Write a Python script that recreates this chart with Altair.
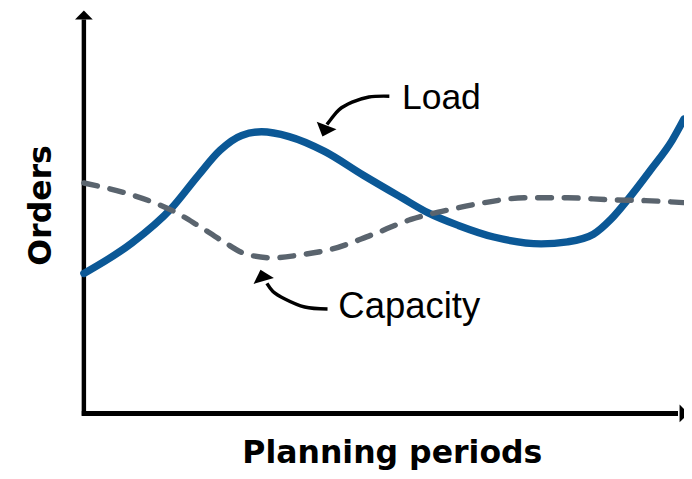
import altair as alt
import pandas as pd

# Planning periods (x, 0-100) and orders (y, 0-100)
load_period = [0, 8.0, 14.6, 19.0, 22.7, 26.3, 29.6, 34.2, 40.1, 46.5, 53.0, 57.3,
               62.4, 68.3, 76.2, 80.6, 84.9, 87.8, 90.6, 94.4, 98.0, 100]
load_orders = [35.0, 42.6, 51.3, 59.4, 65.8, 69.5, 70.4, 69.2, 65.5, 59.6, 53.9, 50.2,
               47.0, 44.1, 42.4, 42.9, 44.8, 48.5, 53.4, 60.8, 68.2, 73.6]
cap_period = [0, 6.7, 11.7, 15.4, 19.0, 23.3, 26.9, 31.4, 36.3, 41.4, 47.9, 54.5,
              61.1, 66.8, 73.4, 80.6, 87.8, 93.6, 100]
cap_orders = [57.6, 55.2, 52.7, 50.2, 47.0, 42.9, 39.9, 38.9, 39.7, 41.1, 44.6, 48.5,
              51.0, 52.7, 53.9, 53.9, 53.4, 53.2, 52.7]

# Annotation arrows
load_arrow_x = [50.9, 47.5, 44.7, 42.5, 41.2, 40.5]
load_arrow_y = [79.3, 79.1, 77.8, 75.9, 73.6, 72.2]
cap_arrow_x = [40.6, 36.8, 33.5, 31.5, 30.5]
cap_arrow_y = [26.1, 26.6, 28.6, 30.5, 32.5]
head_x = [40.1, 29.7]
head_y = [70.6, 34.5]
head_angle = [201, 344]

labels = ["Load", "Capacity"]
label_x = [53.0, 42.4]
label_y = [76.1, 23.9]
label_size = [36, 37]

x_title = "Planning periods"
y_title = "Orders"

BLUE = "#0b5896"
GREY = "#5a646e"

xs = alt.Scale(domain=[0, 100], nice=False, zero=False)
ys = alt.Scale(domain=[0, 100], nice=False, zero=False)


def X(f="x"):
    return alt.X(f"{f}:Q", scale=xs, axis=None)


def Y(f="y"):
    return alt.Y(f"{f}:Q", scale=ys, axis=None)


load_df = pd.DataFrame({"x": load_period, "y": load_orders})
cap_df = pd.DataFrame({"x": cap_period, "y": cap_orders})

load_line = alt.Chart(load_df).mark_line(
    color=BLUE, strokeWidth=7.5, interpolate="monotone", strokeCap="round"
).encode(x=X(), y=Y())

cap_line = alt.Chart(cap_df).mark_line(
    color=GREY, strokeWidth=5.5, interpolate="monotone", strokeDash=[14, 13], strokeCap="round"
).encode(x=X(), y=Y())

# axes
yaxis_df = pd.DataFrame({"x": [0], "y": [-0.6], "y2": [98.5]})
xaxis_df = pd.DataFrame({"x": [-0.35], "x2": [99.0], "y": [0]})
yaxis = alt.Chart(yaxis_df).mark_rule(color="black", strokeWidth=4.5).encode(
    x=X(), y=Y(), y2="y2:Q")
xaxis = alt.Chart(xaxis_df).mark_rule(color="black", strokeWidth=5).encode(
    x=X(), x2="x2:Q", y=Y())
tri = "M-1,0.5L1,0.5L0,-0.5Z"
axis_heads_df = pd.DataFrame({"x": [0, 100], "y": [99.6, 0], "a": [0, 90]})
axis_heads = alt.Chart(axis_heads_df).mark_point(
    shape=tri, filled=True, color="black", opacity=1, size=324
).encode(x=X(), y=Y(), angle=alt.Angle("a:Q", scale=None))

# annotation arrows
la_df = pd.DataFrame({"x": load_arrow_x, "y": load_arrow_y})
ca_df = pd.DataFrame({"x": cap_arrow_x, "y": cap_arrow_y})
la = alt.Chart(la_df).mark_line(color="black", strokeWidth=3.5, interpolate="catmull-rom").encode(
    x=X(), y=Y())
ca = alt.Chart(ca_df).mark_line(color="black", strokeWidth=3.5, interpolate="catmull-rom").encode(
    x=X(), y=Y())
heads_df = pd.DataFrame({"x": head_x, "y": head_y, "a": head_angle})
heads = alt.Chart(heads_df).mark_point(
    shape="M-1,0.55L1,0.55L0,-0.55Z", filled=True, color="black", opacity=1, size=460
).encode(x=X(), y=Y(), angle=alt.Angle("a:Q", scale=None))

lab_df = pd.DataFrame({"x": label_x, "y": label_y, "t": labels, "s": label_size})
lab = alt.Chart(lab_df).mark_text(
    font="Liberation Sans", align="left", baseline="alphabetic", color="black"
).encode(x=X(), y=Y(), text="t:N", size=alt.Size("s:Q", scale=None))

xt = alt.Chart(pd.DataFrame({"x": [51.4], "y": [-12.3], "t": [x_title]})).mark_text(
    font="DejaVu Sans", fontWeight="bold", fontSize=32, align="center", baseline="alphabetic",
    color="black"
).encode(x=X(), y=Y(), text="t:N")

yt = alt.Chart(pd.DataFrame({"x": [-7.06], "y": [52.0], "t": [y_title]})).mark_text(
    font="DejaVu Sans", fontWeight="bold", fontSize=32, align="center", baseline="middle",
    angle=270, color="black"
).encode(x=X(), y=Y(), text="t:N")

chart = alt.layer(
    yaxis, xaxis, axis_heads, load_line, cap_line, la, ca, heads, lab, xt, yt
).properties(
    width=609, height=406,
    autosize=alt.AutoSizeParams(type="none"),
    padding={"left": 77, "top": 2, "right": 0, "bottom": 60},
    background="white",
).configure_view(stroke=None)

chart.save("out.html", embed_options={"renderer": "svg", "actions": False})
